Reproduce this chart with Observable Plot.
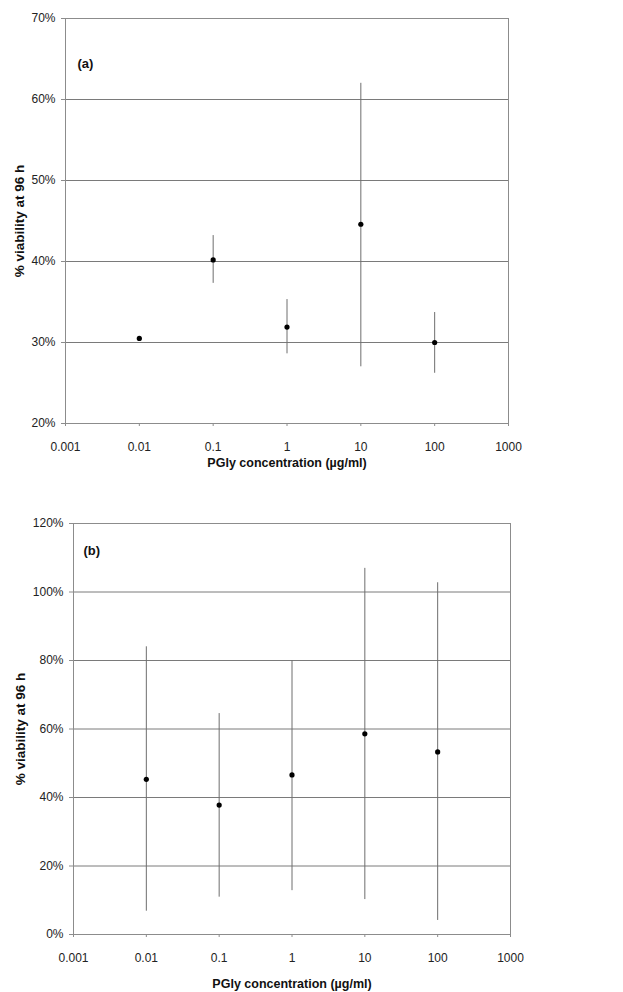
<!DOCTYPE html>
<html>
<head>
<meta charset="utf-8">
<script src="https://cdn.jsdelivr.net/npm/d3@7"></script>
<script src="https://cdn.jsdelivr.net/npm/@observablehq/plot@0.6"></script>
<style>
  html, body { margin: 0; padding: 0; background: #fff; }
  #chart svg { display: block; font-family: Arial, "Liberation Sans", sans-serif; }
  #chart [aria-label="x-axis label"] text { font-weight: bold; fill: #111; font-size: 12.5px; }
  #chart [aria-label="y-axis label"] text { font-weight: bold; fill: #111; font-size: 13.5px; }
  #chart [aria-label="x-axis tick label"] text, #chart [aria-label="y-axis tick label"] text { fill: #222; }
</style>
</head>
<body>
<div id="chart"></div>
<script>
// concentrations (µg/ml)
const conc = [0.01, 0.1, 1, 10, 100];
// panel (a): % viability at 96 h
const meanA = [30.5, 40.2, 31.9, 44.6, 30.0];
const lowA  = [30.3, 37.3, 28.6, 27.0, 26.2];
const highA = [30.7, 43.2, 35.3, 62.0, 33.7];
// panel (b): % viability at 96 h
const meanB = [45.3, 37.8, 46.6, 58.6, 53.3];
const lowB  = [6.8, 10.9, 12.8, 10.2, 4.1];
const highB = [84.0, 64.5, 80.0, 106.9, 102.7];
// x ticks
const xTicks = [0.001, 0.01, 0.1, 1, 10, 100, 1000];
const xTickLabels = ["0.001", "0.01", "0.1", "1", "10", "100", "1000"];
const yTicksA = [20, 30, 40, 50, 60, 70];
const yTicksB = [0, 20, 40, 60, 80, 100, 120];
const xTitle = "PGly concentration (µg/ml)";
const yTitle = "% viability at 96 h";

const rowsA = conc.map((c, i) => ({c, m: meanA[i], lo: lowA[i], hi: highA[i]}));
const rowsB = conc.map((c, i) => ({c, m: meanB[i], lo: lowB[i], hi: highB[i]}));

function xLabel(d) {
  let best = 0;
  xTicks.forEach((t, i) => { if (Math.abs(Math.log10(t) - Math.log10(d)) < Math.abs(Math.log10(xTicks[best]) - Math.log10(d))) best = i; });
  return xTickLabels[best];
}

function panel(rows, opts) {
  return Plot.plot({
    width: 623,
    height: opts.height,
    marginLeft: opts.ml,
    marginRight: opts.mr,
    marginTop: opts.mt,
    marginBottom: opts.mb,
    style: {fontSize: "12px", fontFamily: 'Arial, "Liberation Sans", sans-serif', background: "#fff"},
    x: {type: "log", domain: [0.001, 1000]},
    y: {domain: opts.ydomain},
    marks: [
      Plot.gridY(opts.yticks, {stroke: "#7a7a7a", strokeOpacity: 1}),
      Plot.frame({stroke: "#8c8c8c"}),
      Plot.ruleX(rows, {x: "c", y1: "lo", y2: "hi", stroke: "#6e6e6e", strokeWidth: 1}),
      Plot.dot(rows, {x: "c", y: "m", r: 2.6, fill: "#000", stroke: "none"}),
      Plot.axisY({
        ticks: opts.yticks, tickFormat: d => d + "%", tickSize: 4, tickPadding: 6,
        stroke: "#8c8c8c", fontSize: 12,
        label: yTitle, labelAnchor: "center", labelArrow: "none", labelOffset: opts.ylo
      }),
      Plot.axisX({
        ticks: xTicks, tickFormat: xLabel, tickSize: 3, tickPadding: 16,
        stroke: "#8c8c8c", fontSize: 12,
        label: xTitle, labelAnchor: "center", labelArrow: "none", labelOffset: opts.xlo
      }),
      Plot.text([opts.tag], {frameAnchor: "top-left", dx: opts.tagdx, dy: opts.tagdy, lineAnchor: "middle",
        textAnchor: "start", fontWeight: "bold", fontSize: 13, fill: "#111"})
    ]
  });
}

const chart = document.getElementById("chart");
chart.appendChild(panel(rowsA, {height: 492, ml: 65, mr: 115, mt: 18, mb: 69,
  ydomain: [20, 70], yticks: yTicksA, ylo: 51, xlo: 43, tag: "(a)", tagdx: 12, tagdy: 45}));
chart.appendChild(panel(rowsB, {height: 500, ml: 73, mr: 113, mt: 31, mb: 58,
  ydomain: [0, 120], yticks: yTicksB, ylo: 58, xlo: 53, tag: "(b)", tagdx: 10, tagdy: 27}));
</script>
</body>
</html>
